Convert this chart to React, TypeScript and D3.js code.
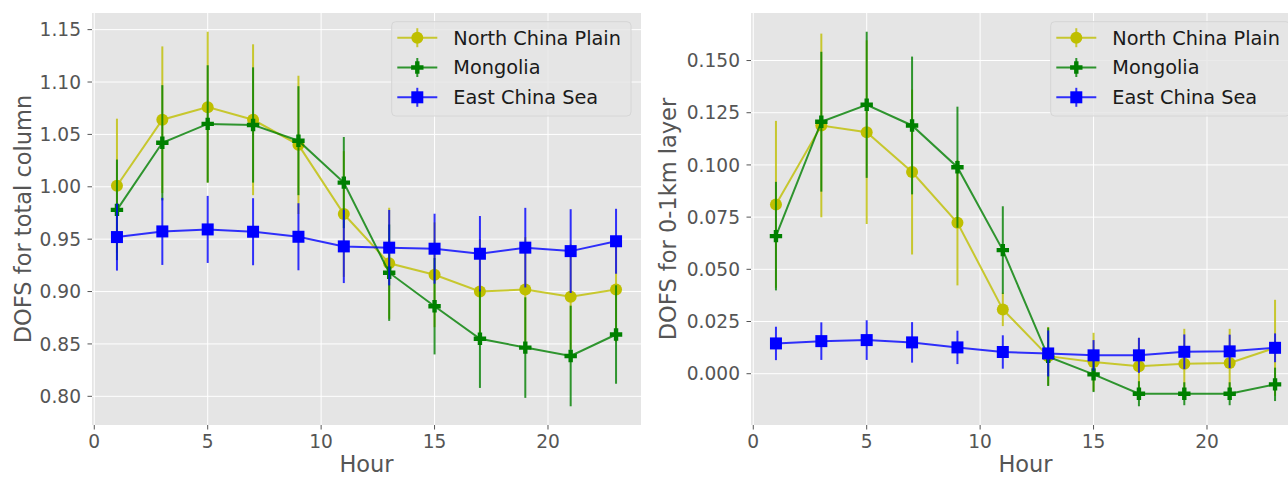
import React from 'react';
import * as d3 from 'd3';

const hours = [1, 3, 5, 7, 9, 11, 13, 15, 17, 19, 21, 23];
const xTicks = [0, 5, 10, 15, 20];
const seriesNames = ['North China Plain', 'Mongolia', 'East China Sea'];
const seriesColors = ['#bfbf00', '#008000', '#0000ff'];
const seriesMarkers = ['circle', 'plus', 'square'];

// Left panel: DOFS for total column
const ncpTotal = [1.001, 1.064, 1.076, 1.064, 1.040, 0.974, 0.927, 0.916, 0.900, 0.902, 0.895, 0.902];
const ncpTotalErr = [0.064, 0.070, 0.072, 0.072, 0.066, 0.060, 0.053, 0.050, 0.050, 0.050, 0.050, 0.050];
const mongTotal = [0.978, 1.042, 1.060, 1.059, 1.044, 1.004, 0.918, 0.886, 0.855, 0.8465, 0.8385, 0.859];
const mongTotalErr = [0.048, 0.055, 0.056, 0.055, 0.052, 0.0435, 0.046, 0.046, 0.047, 0.048, 0.048, 0.047];
const ecsTotal = [0.952, 0.9574, 0.9593, 0.9571, 0.9523, 0.9431, 0.9419, 0.9409, 0.9361, 0.9419, 0.9386, 0.948];
const ecsTotalErr = [0.032, 0.032, 0.032, 0.032, 0.032, 0.035, 0.036, 0.0334, 0.036, 0.038, 0.040, 0.031];
const totalTicks = [0.80, 0.85, 0.90, 0.95, 1.00, 1.05, 1.10, 1.15];

// Right panel: DOFS for 0-1km layer
const ncpLayer = [0.0811, 0.1189, 0.1157, 0.0966, 0.0723, 0.0308, 0.0084, 0.0056, 0.0036, 0.0048, 0.0051, 0.0124];
const ncpLayerErr = [0.040, 0.044, 0.044, 0.0395, 0.030, 0.008, 0.014, 0.014, 0.0136, 0.0167, 0.0164, 0.023];
const mongLayer = [0.0659, 0.1207, 0.1288, 0.1189, 0.0989, 0.0592, 0.0081, -0.0003, -0.0096, -0.0096, -0.0096, -0.0051];
const mongLayerErr = [0.026, 0.0335, 0.035, 0.033, 0.029, 0.021, 0.014, 0.0085, 0.006, 0.0055, 0.0055, 0.008];
const ecsLayer = [0.0145, 0.0156, 0.0161, 0.015, 0.0126, 0.0104, 0.0097, 0.0088, 0.0088, 0.0105, 0.0107, 0.0124];
const ecsLayerErr = [0.008, 0.009, 0.0095, 0.0097, 0.008, 0.008, 0.011, 0.0073, 0.0084, 0.0083, 0.008, 0.0069];
const layerTicks = [0.0, 0.025, 0.05, 0.075, 0.1, 0.125, 0.15];

const FONT = '"DejaVu Sans", sans-serif';

function Marker({ kind, x, y, color }: { kind: string; x: number; y: number; color: string }) {
  if (kind === 'circle') return <circle cx={x} cy={y} r={6} fill={color} />;
  if (kind === 'square') return <rect x={x - 6} y={y - 6} width={12} height={12} fill={color} />;
  const s = 6.2, a = 2.2;
  const pts = [
    [-a, -s], [a, -s], [a, -a], [s, -a], [s, a], [a, a], [a, s], [-a, s], [-a, a], [-s, a], [-s, -a], [-a, -a],
  ].map(([px, py]) => `${x + px},${y + py}`).join(' ');
  return <polygon points={pts} fill={color} />;
}

type PanelProps = {
  left: number;
  values: number[][];
  errs: number[][];
  yTicks: number[];
  decimals: number;
  ylabel: string;
  ylabelX: number;
};

function Panel({ left, values, errs, yTicks, decimals, ylabel, ylabelX }: PanelProps) {
  const width = 549;
  const top = 13, bottom = 425;
  const right = left + width;
  const xExt = d3.extent(hours) as [number, number];
  const xm = (xExt[1] - xExt[0]) * 0.05;
  const x = d3.scaleLinear().domain([xExt[0] - xm, xExt[1] + xm]).range([left, right]);
  const lows = values.flatMap((v, i) => v.map((d, j) => d - errs[i][j]));
  const highs = values.flatMap((v, i) => v.map((d, j) => d + errs[i][j]));
  const ymin = d3.min(lows) as number, ymax = d3.max(highs) as number;
  const ym = (ymax - ymin) * 0.05;
  const y = d3.scaleLinear().domain([ymin - ym, ymax + ym]).range([bottom, top]);
  const line = d3.line<number>().x((_, j) => x(hours[j])).y((d) => y(d));
  const fmt = d3.format(`.${decimals}f`);
  const lgX = right - 249.3, lgY = 21.7;
  return (
    <g>
      <rect x={left} y={top} width={width} height={bottom - top} fill="#e5e5e5" />
      {xTicks.map((t) => (
        <line key={'gx' + t} x1={x(t)} x2={x(t)} y1={top} y2={bottom} stroke="#ffffff" strokeWidth={1} />
      ))}
      {yTicks.map((t) => (
        <line key={'gy' + t} x1={left} x2={right} y1={y(t)} y2={y(t)} stroke="#ffffff" strokeWidth={1} />
      ))}
      {xTicks.map((t) => (
        <g key={'xt' + t}>
          <line x1={x(t)} x2={x(t)} y1={bottom} y2={bottom + 4.5} stroke="#555555" strokeWidth={1} />
          <text x={x(t)} y={448} textAnchor="middle" fontSize={18.6} fill="#555555" fontFamily={FONT}>
            {t}
          </text>
        </g>
      ))}
      {yTicks.map((t) => (
        <g key={'yt' + t}>
          <line x1={left - 4.5} x2={left} y1={y(t)} y2={y(t)} stroke="#555555" strokeWidth={1} />
          <text x={left - 11} y={y(t)} dy="0.36em" textAnchor="end" fontSize={18.6} fill="#555555" fontFamily={FONT}>
            {fmt(t)}
          </text>
        </g>
      ))}
      <text x={(left + right) / 2} y={472} textAnchor="middle" fontSize={22.5} fill="#555555" fontFamily={FONT}>
        Hour
      </text>
      <text
        transform={`translate(${ylabelX},${(top + bottom) / 2}) rotate(-90)`}
        textAnchor="middle"
        fontSize={22.5}
        fill="#555555"
        fontFamily={FONT}
      >
        {ylabel}
      </text>
      {values.map((vals, i) => (
        <g key={'s' + i}>
          {vals.map((d, j) => (
            <line
              key={'e' + j}
              x1={x(hours[j])}
              x2={x(hours[j])}
              y1={y(d - errs[i][j])}
              y2={y(d + errs[i][j])}
              stroke={seriesColors[i]}
              strokeWidth={2}
              strokeOpacity={0.8}
            />
          ))}
          <path d={line(vals) || ''} fill="none" stroke={seriesColors[i]} strokeWidth={2} strokeOpacity={0.8} />
          {vals.map((d, j) => (
            <Marker key={'m' + j} kind={seriesMarkers[i]} x={x(hours[j])} y={y(d)} color={seriesColors[i]} />
          ))}
        </g>
      ))}
      <rect x={lgX} y={lgY} width={239.3} height={94.3} rx={4} ry={4} fill="#e5e5e5" fillOpacity={0.8} stroke="#d6d6d6" strokeWidth={1} />
      {seriesNames.map((name, i) => {
        const cy = lgY + 16 + i * 29.8;
        const hx0 = lgX + 5.6, hx1 = lgX + 45.6, hc = (hx0 + hx1) / 2;
        return (
          <g key={'lg' + i}>
            <line x1={hx0} x2={hx1} y1={cy} y2={cy} stroke={seriesColors[i]} strokeWidth={2} strokeOpacity={0.8} />
            <line x1={hc} x2={hc} y1={cy - 9.5} y2={cy + 9.5} stroke={seriesColors[i]} strokeWidth={2} strokeOpacity={0.8} />
            <Marker kind={seriesMarkers[i]} x={hc} y={cy} color={seriesColors[i]} />
            <text x={lgX + 61.6} y={cy} dy="0.36em" fontSize={19.3} fill="#1a1a1a" fontFamily={FONT}>
              {name}
            </text>
          </g>
        );
      })}
    </g>
  );
}

export default function App() {
  return (
    <svg
      width={1288}
      height={477}
      style={{ position: 'absolute', left: 0, top: 0, background: '#ffffff' }}
      xmlns="http://www.w3.org/2000/svg"
    >
      <rect x={0} y={0} width={1288} height={477} fill="#ffffff" />
      <Panel
        left={92}
        values={[ncpTotal, mongTotal, ecsTotal]}
        errs={[ncpTotalErr, mongTotalErr, ecsTotalErr]}
        yTicks={totalTicks}
        decimals={2}
        ylabel="DOFS for total column"
        ylabelX={31}
      />
      <Panel
        left={751}
        values={[ncpLayer, mongLayer, ecsLayer]}
        errs={[ncpLayerErr, mongLayerErr, ecsLayerErr]}
        yTicks={layerTicks}
        decimals={3}
        ylabel="DOFS for 0-1km layer"
        ylabelX={676}
      />
    </svg>
  );
}
